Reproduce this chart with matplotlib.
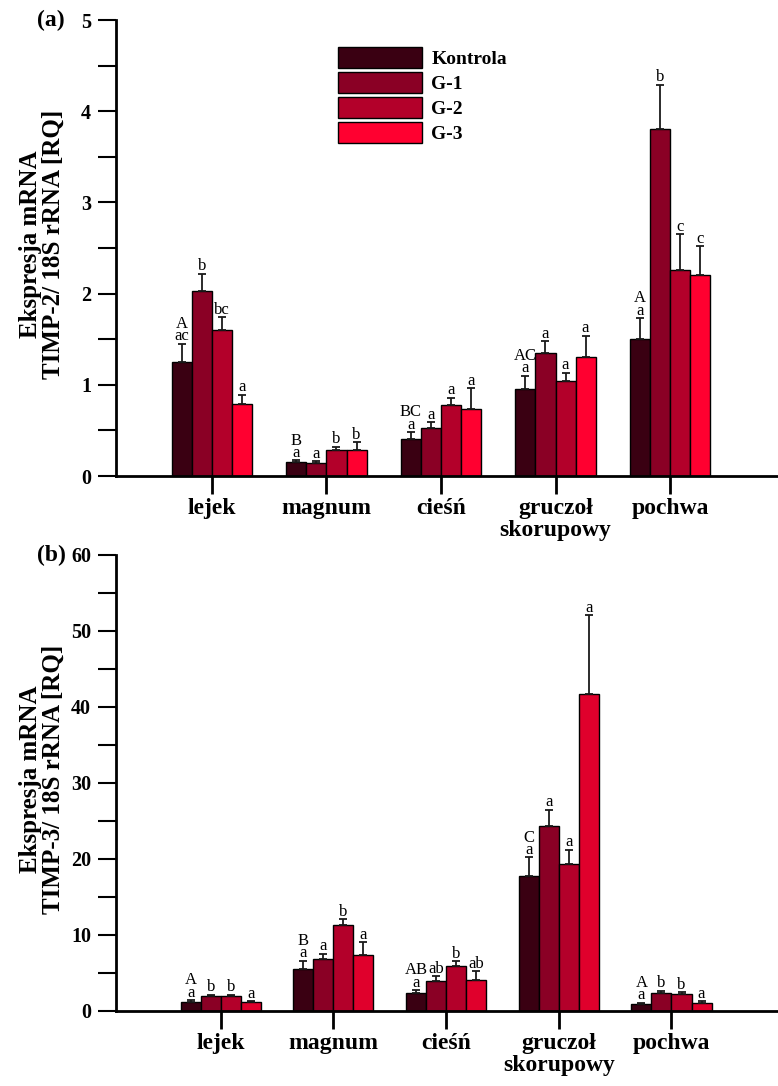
import numpy as np
import matplotlib
matplotlib.use('Agg')
import matplotlib.pyplot as plt
from matplotlib.ticker import MultipleLocator

plt.rcParams['font.family'] = ['Liberation Serif', 'DejaVu Serif']

# Dane
odcinki = ['lejek', 'magnum', 'cieśń', 'gruczoł\nskorupowy', 'pochwa']
grupy = ['Kontrola', 'G-1', 'G-2', 'G-3']

# (a) TIMP-2 - średnie i błędy (w kolejności grup, dla każdego odcinka)
timp2_sr = [
    [1.25, 0.15, 0.41, 0.95, 1.50],   # Kontrola
    [2.03, 0.14, 0.53, 1.35, 3.80],   # G-1
    [1.60, 0.29, 0.78, 1.04, 2.26],   # G-2
    [0.79, 0.29, 0.73, 1.31, 2.20],   # G-3
]
timp2_bl = [
    [0.20, 0.02, 0.07, 0.15, 0.23],
    [0.19, 0.02, 0.06, 0.13, 0.49],
    [0.14, 0.03, 0.08, 0.09, 0.39],
    [0.10, 0.08, 0.23, 0.23, 0.32],
]
timp2_lit = [
    ['ac', 'a', 'a', 'a', 'a'],
    ['b', 'a', 'a', 'a', 'b'],
    ['bc', 'b', 'a', 'a', 'c'],
    ['a', 'b', 'a', 'a', 'c'],
]
timp2_duze = ['A', 'B', 'BC', 'AC', 'A']

# (b) TIMP-3
timp3_sr = [
    [1.23, 5.57, 2.41, 17.7, 0.96],
    [1.93, 6.80, 3.95, 24.4, 2.32],
    [1.97, 11.3, 5.88, 19.3, 2.19],
    [1.14, 7.33, 4.12, 41.7, 1.10],
]
timp3_bl = [
    [0.20, 1.05, 0.35, 2.5, 0.15],
    [0.20, 0.74, 0.60, 2.1, 0.35],
    [0.20, 0.80, 0.66, 1.9, 0.27],
    [0.15, 1.75, 1.14, 10.4, 0.17],
]
timp3_lit = [
    ['a', 'a', 'a', 'a', 'a'],
    ['b', 'a', 'ab', 'a', 'b'],
    ['b', 'b', 'b', 'a', 'b'],
    ['a', 'a', 'ab', 'a', 'a'],
]
timp3_duze = ['A', 'B', 'AB', 'C', 'A']

kolory_a = ['#3a0012', '#8a0025', '#b3002a', '#ff0030']
kolory_b = ['#3a0012', '#8a0025', '#b3002a', '#e0002c']

fig = plt.figure(figsize=(7.78, 10.86), dpi=100)
W, H = 778.0, 1086.0


def panel(rect, srednie, bledy, litery, duze, kolory, ymax, krok, xlim, szer,
          etykieta, ylabel, legenda=False):
    ax = fig.add_axes(rect)
    x = np.arange(len(odcinki))
    for i, g in enumerate(grupy):
        pos = x + (i - 1.5) * szer
        sr = np.array(srednie[i])
        bl = np.array(bledy[i])
        ax.bar(pos, sr, width=szer, color=kolory[i], edgecolor='black',
               linewidth=1.0, label=g, zorder=2)
        ax.errorbar(pos, sr, yerr=[np.zeros_like(bl), bl], fmt='none',
                    ecolor='#1a1a1a', elinewidth=1.3, capsize=2.6,
                    capthick=1.3, zorder=3)
        for j in range(len(odcinki)):
            ax.annotate(litery[i][j], (pos[j], sr[j] + bl[j]),
                        xytext=(0, 2.5), textcoords='offset points',
                        ha='center', va='baseline', fontsize=12)
            if i == 0:
                ax.annotate(duze[j], (pos[j], sr[j] + bl[j]),
                            xytext=(0, 11.5), textcoords='offset points',
                            ha='center', va='baseline', fontsize=12)

    ax.set_xlim(*xlim)
    ax.set_ylim(0, ymax)
    ax.set_xticks(x)
    ax.set_xticklabels(odcinki, fontsize=17, fontweight='bold',
                       linespacing=1.05)
    ax.yaxis.set_major_locator(MultipleLocator(krok))
    ax.yaxis.set_minor_locator(MultipleLocator(krok / 2))
    ax.tick_params(axis='y', which='both', direction='out', length=13,
                   width=1.5, labelsize=14.5, pad=5)
    ax.tick_params(axis='x', direction='out', length=13, width=2, pad=3)
    for t in ax.get_yticklabels():
        t.set_fontweight('bold')
    for s in ['top', 'right']:
        ax.spines[s].set_visible(False)
    for s in ['left', 'bottom']:
        ax.spines[s].set_linewidth(2)

    y0, y1 = rect[1], rect[1] + rect[3]
    fig.text(42 / W, (y0 + y1) / 2 + 4 / H, ylabel, rotation=90, ha='center',
             va='center', fontsize=18, fontweight='bold', linespacing=1.0)
    fig.text(37 / W, y1, etykieta, ha='left', va='center', fontsize=17,
             fontweight='bold')

    if legenda:
        ax.legend(loc='upper left', bbox_to_anchor=(338 / W, 1 - 47 / H),
                  bbox_transform=fig.transFigure, frameon=False,
                  borderpad=0, borderaxespad=0, handlelength=4.3,
                  handleheight=1.25, labelspacing=0.22, handletextpad=0.5,
                  prop={'weight': 'bold', 'size': 14})
    return ax


lewa = 116 / W
panel([lewa, 1 - 476 / H, 1 - lewa, 456 / H], timp2_sr, timp2_bl, timp2_lit,
      timp2_duze, kolory_a, 5, 1, (-0.838, 4.943), 0.175, '(a)',
      'Ekspresja mRNA\nTIMP-2/ 18S rRNA [RQ]', legenda=True)
panel([lewa, 1 - 1011 / H, 1 - lewa, 456 / H], timp3_sr, timp3_bl, timp3_lit,
      timp3_duze, kolory_b, 60, 10, (-0.929, 4.945), 0.1775, '(b)',
      'Ekspresja mRNA\nTIMP-3/ 18S rRNA [RQ]')

fig.savefig('out.png', dpi=100)
